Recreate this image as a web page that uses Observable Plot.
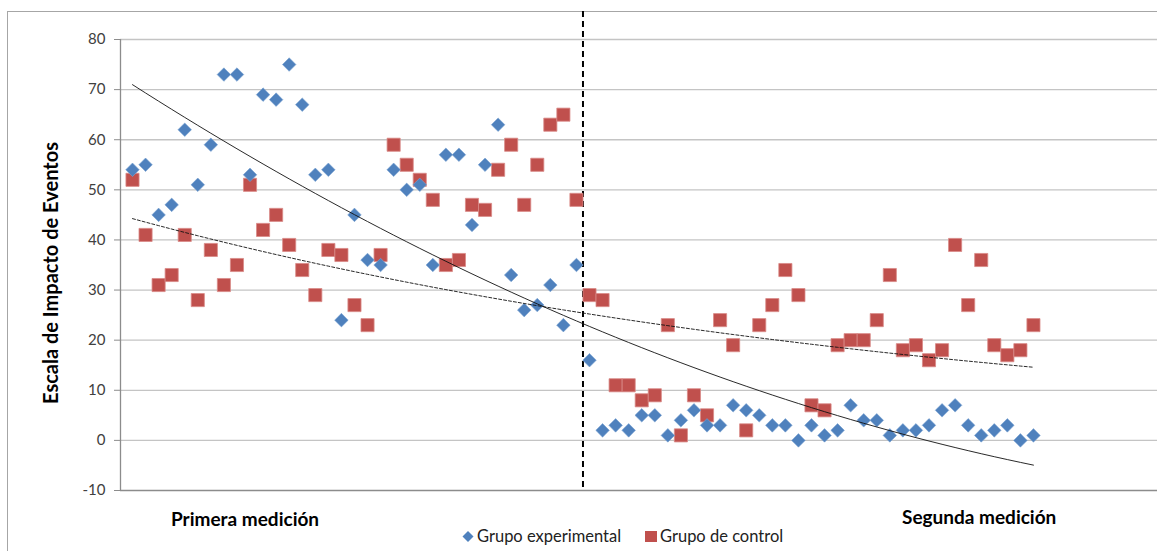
<!DOCTYPE html>
<html><head><meta charset="utf-8">
<script src="https://cdn.jsdelivr.net/npm/d3@7"></script>
<script src="https://cdn.jsdelivr.net/npm/@observablehq/plot@0.6"></script>
<style>
body{margin:0;background:#fff;}
#wrap{position:relative;width:1157px;height:551px;overflow:hidden;font-family:Lato,"Open Sans",sans-serif;background:#fff;}
#wrap svg{position:absolute;left:0;top:0;}
#border{position:absolute;left:7px;top:11px;width:1200px;height:600px;border-left:1px solid #a6a6a6;border-top:1px solid #a6a6a6;}
.lab{position:absolute;white-space:nowrap;color:#000;line-height:22px;}
.bold{font-weight:bold;font-size:19px;}
.leg{font-size:16.5px;color:#222;line-height:20px;}
#ytitle{position:absolute;left:50px;top:273px;transform:translate(-50%,-50%) rotate(-90deg);font-weight:bold;font-size:20px;white-space:nowrap;}
</style></head>
<body>
<div id="wrap">
  <div id="border"></div>
</div>
<script>
// Observation index (70 participants, two measurements of 35)
const obs = d3.range(1, 71);
const experimental = [54,55,45,47,62,51,59,73,73,53,69,68,75,67,53,54,24,45,36,35,54,50,51,35,57,57,43,55,63,33,26,27,31,23,35,
                      16,2,3,2,5,5,1,4,6,3,3,7,6,5,3,3,0,3,1,2,7,4,4,1,2,2,3,6,7,3,1,2,3,0,1];
const control = [52,41,31,33,41,28,38,31,35,51,42,45,39,34,29,38,37,27,23,37,59,55,52,48,35,36,47,46,54,59,47,55,63,65,48,
                 29,28,11,11,8,9,23,1,9,5,24,19,2,23,27,34,29,7,6,19,20,20,24,33,18,19,16,18,39,27,36,19,17,18,23];
const yTicks = [-10,0,10,20,30,40,50,60,70,80];
const seriesNames = ["Grupo experimental", "Grupo de control"];
const phaseLabels = ["Primera medición", "Segunda medición"];
const yTitle = "Escala de Impacto de Eventos";
const colors = ["#4F81BD", "#C0504D"];
const splitAt = 35.5;

// Trendlines (least squares, as in a spreadsheet): polynomial order 2 for experimental, exponential for control
function polyFit2(xs, ys) {
  let s = [0,0,0,0,0], t = [0,0,0];
  xs.forEach((x, i) => { for (let k = 0; k < 5; k++) s[k] += x ** k; for (let k = 0; k < 3; k++) t[k] += ys[i] * x ** k; });
  const A = [[s[0],s[1],s[2],t[0]],[s[1],s[2],s[3],t[1]],[s[2],s[3],s[4],t[2]]];
  for (let i = 0; i < 3; i++) { for (let j = i+1; j < 3; j++) { const f = A[j][i]/A[i][i]; for (let k = i; k < 4; k++) A[j][k] -= f*A[i][k]; } }
  const c = [0,0,0];
  for (let i = 2; i >= 0; i--) { let v = A[i][3]; for (let k = i+1; k < 3; k++) v -= A[i][k]*c[k]; c[i] = v/A[i][i]; }
  return x => c[0] + c[1]*x + c[2]*x*x;
}
function expFit(xs, ys) {
  const lx = d3.mean(xs), ly = d3.mean(ys, y => Math.log(y));
  let num = 0, den = 0;
  xs.forEach((x, i) => { num += (x - lx)*(Math.log(ys[i]) - ly); den += (x - lx)**2; });
  const b = num/den, a = ly - b*lx;
  return x => Math.exp(a + b*x);
}
const fE = polyFit2(obs, experimental);
const fC = expFit(obs, control);
const trendE = obs.map(x => ({x, y: fE(x)}));
const trendC = obs.map(x => ({x, y: fC(x)}));

const expData = obs.map((x, i) => ({x, y: experimental[i]}));
const ctlData = obs.map((x, i) => ({x, y: control[i]}));

const xMin = 0.081, xMax = 79.5;
const chart = Plot.plot({
  width: 1157, height: 551,
  marginLeft: 120, marginRight: 0, marginTop: 11, marginBottom: 61,
  style: {fontFamily: "Lato, 'Open Sans', sans-serif", fontSize: "15px", background: "transparent", overflow: "visible"},
  x: {domain: [xMin, xMax], axis: null},
  y: {domain: [-10, 85.59], axis: null},
  marks: [
    Plot.ruleY(yTicks.filter(d => d > -10), {x1: xMin, x2: xMax, stroke: "#c4c4c4", strokeWidth: 1.3}),
    Plot.ruleY([-10], {x1: xMin, x2: xMax, stroke: "#8c8c8c", strokeWidth: 1.3}),
    Plot.ruleX([xMin], {y1: -10, y2: 80, stroke: "#8c8c8c", strokeWidth: 1.3}),
    Plot.axisY({ticks: yTicks, tickSize: 6, tickPadding: 9, stroke: "#8c8c8c", color: "#404040", label: null, tickFormat: d => d < 0 ? "-" + Math.abs(d) : d}),
    Plot.ruleX([splitAt], {stroke: "#000", strokeWidth: 2, strokeDasharray: "6,4"}),
    Plot.dot(ctlData, {x: "x", y: "y", symbol: "square", r: 7.4, fill: colors[1], stroke: "#d98a88", strokeWidth: 0.8}),
    Plot.dot(expData, {x: "x", y: "y", symbol: "diamond2", r: 6.1, fill: colors[0], stroke: "#7aa2d2", strokeWidth: 0.6}),
    Plot.line(trendE, {x: "x", y: "y", stroke: "#111", strokeWidth: 0.9}),
    Plot.line(trendC, {x: "x", y: "y", stroke: "#111", strokeWidth: 0.9, strokeDasharray: "3,2"})
  ]
});
const wrap = document.getElementById("wrap");
wrap.appendChild(chart);

function addLabel(text, cls, left, top) {
  const d = document.createElement("div");
  d.className = "lab " + cls; d.textContent = text;
  d.style.left = left + "px"; d.style.top = top + "px";
  wrap.appendChild(d); return d;
}
addLabel(phaseLabels[0], "bold", 171, 508);
addLabel(phaseLabels[1], "bold", 902, 506);
const yt = document.createElement("div"); yt.id = "ytitle"; yt.textContent = yTitle; wrap.appendChild(yt);

// legend
const legSvg = d3.select(wrap).append("svg").attr("width", 200).attr("height", 20)
  .style("left", "460px").style("top", "527px");
legSvg.append("path").attr("d", "M8,4 L13.5,9.5 L8,15 L2.5,9.5 Z").attr("fill", colors[0]);
legSvg.append("rect").attr("x", 185).attr("y", 4).attr("width", 12).attr("height", 11).attr("fill", colors[1]);
addLabel(seriesNames[0], "leg", 477, 526);
addLabel(seriesNames[1], "leg", 660, 526);
</script>
</body></html>
